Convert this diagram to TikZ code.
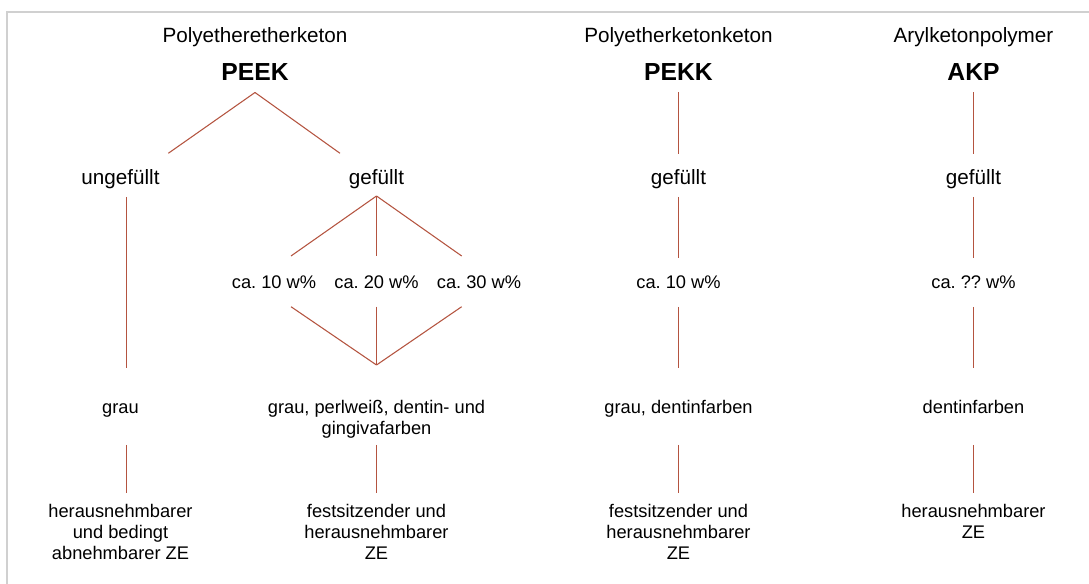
\documentclass[tikz,border=0pt]{standalone}
\usepackage{fontspec}
\setmainfont{Liberation Sans}
\definecolor{linkred}{RGB}{180,84,64}
\definecolor{framegray}{RGB}{208,208,208}
\frenchspacing

\tikzset{
  heading/.style={font=\fontsize{15.5}{18}\selectfont, anchor=base, inner sep=0pt},
  acro/.style={font=\bfseries\fontsize{18.5}{22}\selectfont, anchor=base, inner sep=0pt},
  branch/.style={font=\fontsize{15.5}{18}\selectfont, anchor=base, inner sep=0pt},
  detail/.style={font=\fontsize{13.7}{15.4}\selectfont, align=center, anchor=base, inner sep=0pt},
  link/.style={draw=linkred, line width=0.8pt}
}

\begin{document}
\begin{tikzpicture}[x=0.75pt, y=-0.75pt]
\useasboundingbox (0,0) rectangle (1089,584);
\draw[framegray, line width=1.2pt] (7,590) |- (1095,12);

% PEEK (multi-line nodes sit on their last baseline)
\node[heading] (petitle) at (255,42.5) {Polyetheretherketon};
\node[acro] (peek) at (255,81) {PEEK};
\node[branch] (ungef) at (120.5,184.3) {ungefüllt};
\node[branch] (geffA) at (376.5,184.3) {gefüllt};
\node[detail] (ca10) at (274,288.3) {ca. 10 w\%};
\node[detail] (ca20) at (376.5,288.3) {ca. 20 w\%};
\node[detail] (ca30) at (479,288.3) {ca. 30 w\%};
\node[detail] (farbeA) at (120.5,414) {grau};
\node[detail] (farbeB) at (376.5,434.5) {grau, perlweiß, dentin- und\\gingivafarben};
\node[detail] (zeA) at (120.5,559) {herausnehmbarer\\und bedingt\\abnehmbarer ZE};
\node[detail] (zeB) at (376.5,559) {festsitzender und\\herausnehmbarer\\ZE};

% PEKK
\node[heading] (pektitle) at (678.5,42.5) {Polyetherketonketon};
\node[acro] (pekk) at (678.5,81) {PEKK};
\node[branch] (geffK) at (678.5,184.3) {gefüllt};
\node[detail] (caK) at (678.5,288.3) {ca. 10 w\%};
\node[detail] (farbeK) at (678.5,414) {grau, dentinfarben};
\node[detail] (zeK) at (678.5,559) {festsitzender und\\herausnehmbarer\\ZE};

% AKP
\node[heading] (akptitle) at (973.5,42.5) {Arylketonpolymer};
\node[acro] (akp) at (973.5,81) {AKP};
\node[branch] (geffP) at (973.5,184.3) {gefüllt};
\node[detail] (caP) at (973.5,288.3) {ca. ?? w\%};
\node[detail] (farbeP) at (973.5,414) {dentinfarben};
\node[detail] (zeP) at (973.5,538.5) {herausnehmbarer\\ZE};

% PEEK tree
\draw[link] ([shift={(0,11.5)}]peek.base) -- ([shift={(47.8,-31)}]ungef.base);
\draw[link] ([shift={(0,11.5)}]peek.base) -- ([shift={(-36.5,-31)}]geffA.base);
\draw[link] ([shift={(6,12.7)}]ungef.base) -- ([shift={(6,-46)}]farbeA.base);
\draw[link] ([shift={(0,11.7)}]geffA.base) -- ([shift={(17,-32.3)}]ca10.base);
\draw[link] ([shift={(0,11.7)}]geffA.base) -- ([shift={(0,-32.3)}]ca20.base);
\draw[link] ([shift={(0,11.7)}]geffA.base) -- ([shift={(-17.3,-32.3)}]ca30.base);
\draw[link] ([shift={(17,18.4)}]ca10.base) -- ([shift={(0,-69.5)}]farbeB.base);
\draw[link] ([shift={(0,18.4)}]ca20.base) -- ([shift={(0,-69.5)}]farbeB.base);
\draw[link] ([shift={(-17.3,18.4)}]ca30.base) -- ([shift={(0,-69.5)}]farbeB.base);
\draw[link] ([shift={(6,31)}]farbeA.base) -- ([shift={(6,-66)}]zeA.base);
\draw[link] ([shift={(0,10.5)}]farbeB.base) -- ([shift={(0,-66)}]zeB.base);

% PEKK and AKP columns
\foreach \a/\b in {pekk/geffK, akp/geffP}
  \draw[link] ([shift={(0,11.5)}]\a.base) -- ([shift={(0,-30)}]\b.base);
\foreach \a/\b in {geffK/caK, geffP/caP}
  \draw[link] ([shift={(0,12.7)}]\a.base) -- ([shift={(0,-30.3)}]\b.base);
\foreach \a/\b in {caK/farbeK, caP/farbeP}
  \draw[link] ([shift={(0,18.7)}]\a.base) -- ([shift={(0,-46)}]\b.base);
\draw[link] ([shift={(0,31)}]farbeK.base) -- ([shift={(0,-66)}]zeK.base);
\draw[link] ([shift={(0,31)}]farbeP.base) -- ([shift={(0,-45.5)}]zeP.base);
\end{tikzpicture}
\end{document}
